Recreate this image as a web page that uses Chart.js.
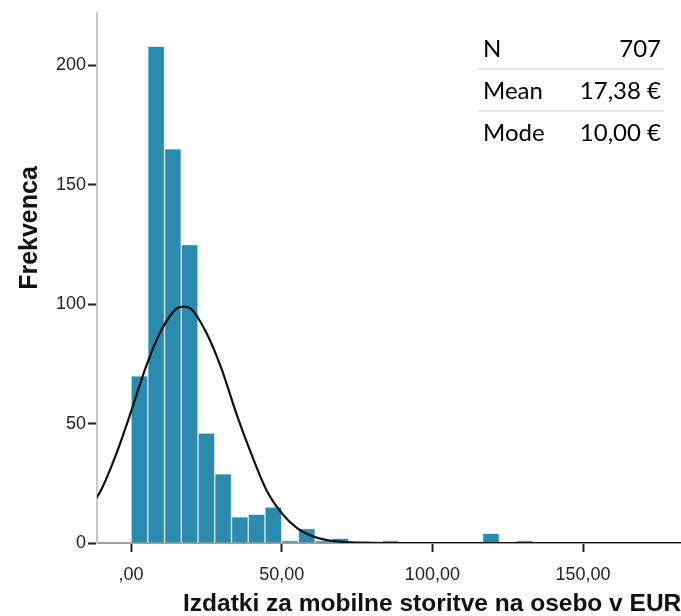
<!DOCTYPE html>
<html>
<head>
<meta charset="utf-8">
<script src="https://cdn.jsdelivr.net/npm/chart.js@4.4.1/dist/chart.umd.min.js"></script>
<style>
  body { margin: 0; background: #fff; }
  #wrap { position: relative; width: 681px; height: 616px; }
  #stats { position: absolute; left: 478px; top: 28px; width: 186px;
           font-family: "Lato", "Liberation Sans", sans-serif; font-size: 24px; color: #000; }
  #stats .row { display: flex; justify-content: space-between; height: 40px; line-height: 40px; padding: 0 3px 0 5px; }
  #stats .row + .row { border-top: 2px solid #e4e4e4; }
</style>
</head>
<body>
<div id="wrap">
  <canvas id="myChart" width="681" height="616"></canvas>
  <div id="stats"></div>
</div>
<script>
// histogram bins (width 50/9 starting at 0)
var binWidth = 50 / 9;
var counts = [70, 208, 165, 125, 46, 29, 11, 12, 15, 1, 6, 1, 2, 0, 0, 1, 0, 0, 0, 0, 0, 4, 0, 1, 0, 0, 0, 0, 0, 0, 0, 0, 0];

// normal curve
var curveX = [-12, -10, -5, 0, 5, 10, 15, 17.4, 20, 25, 30, 35, 40, 45, 50, 55, 60, 65, 70, 80, 90, 120, 183];
var curveY = [18, 22, 37, 55, 74, 89, 98, 99, 98, 88, 73, 54, 37, 22, 12.5, 6.3, 2.9, 1.2, 0.5, 0.1, 0, 0, 0];

var xTicks = [0, 50, 100, 150];
var xTickLabels = [',00', '50,00', '100,00', '150,00'];
var yTicks = [0, 50, 100, 150, 200];

var statLabels = ['N', 'Mean', 'Mode'];
var statValues = ['707', '17,38 €', '10,00 €'];

var html = '';
for (var i = 0; i < statLabels.length; i++) {
    html += '<div class="row"><span>' + statLabels[i] + '</span><span>' + statValues[i] + '</span></div>';
}
document.getElementById('stats').innerHTML = html;

var barData = [];
for (var i = 0; i < counts.length; i++) {
    barData.push({x: (i + 0.5) * binWidth, y: counts[i]});
}
var lineData = [];
for (var i = 0; i < curveX.length; i++) {
    lineData.push({x: curveX[i], y: curveY[i]});
}

var titles = {
    id: 'titles',
    afterDraw: function(chart) {
        var ctx = chart.ctx;
        ctx.save();
        ctx.fillStyle = '#111';
        ctx.font = 'bold 24.5px "Liberation Sans", Arial, sans-serif';
        ctx.textBaseline = 'middle';
        ctx.textAlign = 'left';
        ctx.fillText('Izdatki za mobilne storitve na osebo v EUR', 183, 604);
        ctx.font = 'bold 25px "Liberation Sans", Arial, sans-serif';
        ctx.translate(30, 228);
        ctx.rotate(-Math.PI / 2);
        ctx.textAlign = 'center';
        ctx.fillText('Frekvenca', 0, 0);
        ctx.restore();
    }
};

var ctx = document.getElementById('myChart').getContext('2d');
var chart = new Chart(ctx, {
    type: 'bar',
    data: {
        datasets: [{
            type: 'line',
            data: lineData,
            borderColor: '#111',
            borderWidth: 2.2,
            pointRadius: 0,
            fill: false,
            cubicInterpolationMode: 'monotone',
            order: 0
        }, {
            type: 'bar',
            data: barData,
            backgroundColor: '#2a8bae',
            borderColor: '#d3e9f1',
            borderWidth: 1,
            borderSkipped: 'bottom',
            barPercentage: 1,
            categoryPercentage: 1,
            order: 1
        }]
    },
    options: {
        responsive: false,
        animation: false,
        layout: { padding: { top: 12, right: 0, bottom: 0, left: 0 } },
        plugins: {
            legend: { display: false },
            tooltip: { enabled: false }
        },
        scales: {
            x: {
                type: 'linear',
                min: -11.3,
                max: 182.5,
                offset: false,
                afterFit: function(scale) { scale.height = 73; },
                afterBuildTicks: function(scale) {
                    scale.ticks = xTicks.map(function(v) { return {value: v}; });
                },
                ticks: {
                    autoSkip: false,
                    maxRotation: 0,
                    padding: 12,
                    color: '#222',
                    font: { family: '"Liberation Sans", Arial, sans-serif', size: 18 },
                    callback: function(v) { return xTickLabels[xTicks.indexOf(v)]; }
                },
                grid: { offset: false, drawOnChartArea: false, drawTicks: true, tickLength: 9, tickColor: '#222', tickWidth: 2 },
                border: { color: '#a0a0a0', width: 2 }
            },
            y: {
                min: 0,
                max: 222,
                afterFit: function(scale) { scale.width = 97; },
                afterBuildTicks: function(scale) {
                    scale.ticks = yTicks.map(function(v) { return {value: v}; });
                },
                ticks: {
                    padding: 2,
                    color: '#222',
                    font: { family: '"Liberation Sans", Arial, sans-serif', size: 18 }
                },
                grid: { offset: false, drawOnChartArea: false, drawTicks: true, tickLength: 9, tickColor: '#222', tickWidth: 2 },
                border: { color: '#c8c8c8', width: 2 }
            }
        }
    },
    plugins: [titles]
});
</script>
</body>
</html>
